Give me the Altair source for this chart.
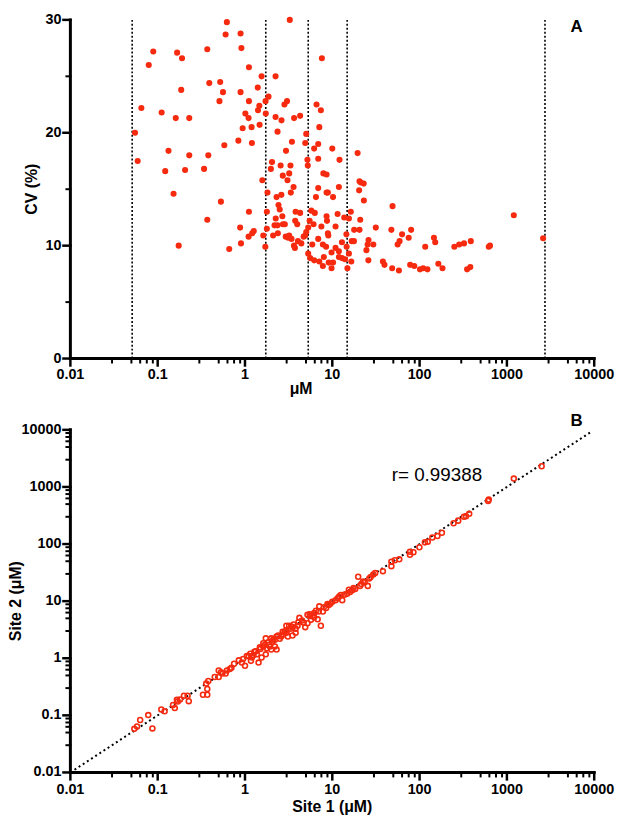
import altair as alt
import pandas as pd

RED = "#F52A0F"
FONT = "Liberation Sans"

# ---------------- Panel A: CV (%) vs concentration (uM) ----------------
cv_conc = [0.055, 0.059, 0.065, 0.079, 0.089, 0.111, 0.122, 0.133, 0.152, 0.161,
           0.167, 0.186, 0.190, 0.206, 0.23, 0.23, 0.34, 0.37, 0.38, 0.39,
           0.51, 0.52, 0.53, 0.56, 0.58, 0.60, 0.62, 0.84, 0.89, 0.89,
           0.91, 0.94, 1.01, 1.10, 1.11, 1.11, 1.19, 1.20, 1.40, 1.41,
           1.46, 1.47, 1.55, 1.58, 1.72, 1.73, 1.81, 1.86, 2.04, 1.98,
           2.24, 2.24, 2.30, 2.36, 2.56, 2.61, 2.62, 2.71, 2.83, 2.95,
           3.03, 3.07, 3.21, 3.26, 3.32, 3.35, 3.45, 3.60, 3.65, 4.28,
           4.90, 5.03, 5.19, 5.24, 6.2, 6.6,
           0.174, 0.37, 0.66, 0.88, 0.90, 1.10, 1.11, 1.21, 1.26, 1.62,
           1.71, 1.78, 1.78, 2.10, 2.18, 2.25, 2.36, 2.38, 2.42, 2.50,
           2.68, 2.72, 2.86, 2.93, 3.12, 3.21, 3.41, 3.64, 3.76, 3.80,
           3.73, 3.97, 4.04, 4.28, 4.42, 4.70, 4.90, 5.03, 5.3, 5.5,
           5.75, 5.3, 5.58, 5.9, 6.2, 6.5,
           7.6, 7.4, 7.1, 6.9, 10.0, 6.9, 12.1, 19.5, 7.9, 8.6,
           20.5, 21.2, 22.9, 6.9, 11.9, 20.3, 8.6, 8.9, 10.2, 23.0, 49.0,
           1200, 2600, 6.3, 8.6, 8.7, 11.5, 13.7, 16.3, 15.5, 20.9,
           7.5, 10.9, 8.9, 9.0, 14.5, 17.8, 20.5, 31.5, 47.5, 80,
           63, 75, 6.9, 7.8, 8.5, 10.9, 12.9, 11.9, 9.8, 14.6,
           16.7, 17.7, 15.5, 16.5, 14.9, 7.1, 8.0, 7.8, 9.1, 9.8,
           10.2, 11.9, 12.9, 14.0, 25.4, 26.0, 29.5, 24.6, 25.9, 38,
           39.6, 48.5, 58, 56, 59, 78, 87, 101, 110, 123,
           116, 146, 151, 164, 183, 250, 284, 323, 386, 350,
           381, 620, 640, 6.1]
cv_pct = [20.0, 17.5, 22.2, 26.0, 27.2, 21.8, 16.6, 18.4, 14.6, 21.3,
          27.1, 23.8, 26.6, 16.7, 21.3, 18.0, 16.8, 27.4, 18.0, 24.4,
          22.8, 24.5, 13.9, 23.6, 18.9, 28.7, 29.8, 19.3, 28.8, 23.6,
          27.5, 20.4, 21.7, 21.3, 25.8, 22.8, 20.5, 19.1, 24.0, 22.0,
          22.4, 20.7, 25.0, 15.8, 22.8, 21.7, 14.7, 23.2, 17.4, 16.8,
          25.0, 21.4, 14.3, 20.1, 17.1, 14.5, 21.1, 16.2, 22.5, 18.4,
          22.8, 15.8, 16.4, 30.0, 17.1, 14.7, 19.2, 15.2, 21.3, 21.5,
          19.1, 19.9, 17.6, 17.1, 18.6, 22.5,
          10.0, 12.3, 9.7, 11.6, 10.2, 10.8, 13.0, 11.1, 11.3, 10.9,
          9.9, 13.0, 11.5, 10.9, 11.8, 12.4, 11.8, 11.1, 13.6, 13.2,
          12.6, 11.9, 11.9, 10.8, 10.7, 10.9, 10.6, 10.0, 12.2, 13.0,
          9.8, 11.9, 10.4, 12.9, 10.2, 10.8, 10.9, 11.2, 11.6, 12.2,
          13.1, 9.3, 8.9, 10.1, 8.7, 14.3,
          26.6, 22.0, 20.5, 19.0, 18.6, 17.7, 17.6, 18.2, 16.4, 16.3,
          15.7, 15.6, 15.5, 15.1, 15.2, 14.9, 14.7, 14.7, 14.3, 14.0, 13.5,
          12.7, 10.65, 12.9, 12.6, 12.2, 12.8, 12.5, 13.0, 12.4, 12.3,
          11.7, 11.7, 11.1, 10.9, 11.0, 11.4, 11.4, 11.6, 11.4, 11.4,
          11.0, 10.7, 10.6, 10.1, 9.9, 9.8, 10.3, 9.5, 9.4, 9.9,
          10.4, 10.4, 9.3, 8.6, 8.0, 8.6, 9.0, 8.2, 8.5, 8.0,
          8.5, 9.0, 8.9, 8.8, 10.1, 10.5, 10.1, 9.6, 8.7, 8.6,
          8.3, 8.0, 7.8, 10.1, 10.4, 8.3, 8.2, 7.9, 8.0, 7.9,
          9.9, 10.7, 10.3, 8.4, 8.0, 9.9, 10.1, 10.2, 10.4, 7.9,
          8.1, 9.9, 10.0, 11.9]
boundaries = [0.051, 1.73, 5.3, 14.8, 2730]

# ---------------- Panel B: Site 2 vs Site 1 ----------------
site1 = [0.054, 0.058, 0.063, 0.078, 0.087, 0.110, 0.120, 0.150, 0.157, 0.166,
         0.17, 0.18, 0.20, 0.22, 0.227, 0.33, 0.37, 0.37, 0.36, 0.38,
         0.50, 0.50, 0.55, 0.60, 0.62, 0.67, 0.85, 0.92, 1.0, 1.10,
         1.17, 1.25, 1.33, 1.43, 1.48, 1.55, 1.62, 1.73, 1.73, 1.89,
         2.06, 2.2, 2.3, 2.5, 2.73, 2.98, 3.1, 3.4, 3.5, 3.8,
         4.0, 4.2, 4.9, 5.2, 5.7, 6.2, 1.05, 1.20, 1.37, 1.78,
         1.62, 1.93, 2.0, 2.0, 2.3, 2.2, 2.4, 2.6, 2.85, 2.98,
         3.2, 3.5, 3.8, 5.2, 5.6, 6.2, 6.8, 7.1, 7.4, 7.8,
         8.5, 9.1, 10.0, 10.9, 12.0, 13.0, 14.8, 16.9, 18.3, 19.8,
         20.8, 23.5, 25.5, 29.5, 31, 38, 47.5, 47.5, 52, 58.5,
         77.5, 77.5, 85, 99.5, 115, 124, 140, 160, 180, 245,
         277, 322, 340, 370, 610, 620, 1200, 2500,
         2.7, 3.0, 3.3, 3.6, 4.1, 4.5, 4.7, 5.5, 6.0, 6.5,
         7.0, 8.0, 8.8, 9.5, 11.5, 12.5, 13.8, 15.5, 16.0, 17.5,
         21.5, 22.5, 26.5, 27.5, 1.15, 1.28, 1.5, 1.68, 1.85, 2.1,
         0.70, 0.75, 0.95, 0.53, 0.45]
site2 = [0.058, 0.064, 0.083, 0.101, 0.059, 0.127, 0.118, 0.152, 0.134, 0.187,
         0.175, 0.19, 0.22, 0.22, 0.177, 0.23, 0.23, 0.29, 0.36, 0.40,
         0.61, 0.47, 0.54, 0.54, 0.61, 0.65, 0.92, 0.84, 0.74, 1.09,
         0.90, 1.13, 1.33, 0.84, 1.55, 1.03, 1.61, 1.17, 2.23, 1.72,
         1.95, 1.61, 2.4, 2.2, 2.6, 3.1, 2.4, 3.6, 2.5, 3.3,
         3.7, 5.1, 3.5, 4.1, 4.7, 5.2, 1.09, 1.03, 1.17, 1.50,
         1.83, 1.61, 2.23, 1.42, 1.42, 2.1, 2.5, 2.4, 2.9, 3.7,
         3.7, 3.5, 2.8, 5.8, 5.5, 6.2, 4.8, 8.1, 3.7, 6.6,
         7.6, 8.6, 9.8, 10.4, 12.0, 10.4, 13.5, 15.5, 16.3, 26.8,
         18.5, 21.5, 18.5, 29.3, 31, 33.5, 49, 41, 52, 54,
         73, 65, 72, 88, 107, 110, 130, 138, 158, 231,
         257, 300, 307, 338, 570, 600, 1400, 2300,
         2.9, 2.8, 3.3, 3.9, 4.3, 4.6, 4.2, 5.9, 5.6, 6.8,
         6.6, 7.8, 8.9, 9.0, 11.2, 12.8, 13.0, 15.8, 14.5, 17.0,
         20.0, 22.0, 25.0, 26.5, 1.2, 1.3, 1.45, 1.7, 1.9, 2.1,
         0.68, 0.8, 0.97, 0.57, 0.47]
identity_line = [0.01, 9000]
r_text = "r= 0.99388"

# ---------------- Axis ticks and tick labels ----------------
log_major = [0.01, 0.1, 1, 10, 100, 1000, 10000]
log_labels = ["0.01", "0.1", "1", "10", "100", "1000", "10000"]
log_minor_mult = [3, 5, 6.3, 7.5, 8.8]
log_minor = [round(b * m, 6) for b in log_major[:-1] for m in log_minor_mult]
lin_major = [0, 10, 20, 30]
lin_labels = ["0", "10", "20", "30"]
lin_minor = [5, 15, 25]
log_range = [0.01, 10000]
lin_range = [0, 30]

W = 529
HA = 342
HB = 346
MAJ, MIN = 7, 4
LBL = dict(font=FONT, fontSize=14.5, fontWeight="bold", color="black")
TTL = dict(font=FONT, fontSize=16, fontWeight="bold", color="black")

xs = alt.Scale(type="log", domain=log_range, nice=False)
ys_a = alt.Scale(domain=lin_range, nice=False)
ys_b = alt.Scale(type="log", domain=log_range, nice=False)


def x_left(px):
    # data value lying px pixels left of the log x-axis start
    return log_range[0] * 10 ** (-6.0 * px / W)


def frame_layer(yscale, y_is_log, H, y_major, y_minor, ylo, yhi):
    """Axis lines and tick marks drawn as path segments through the scales."""
    def y_below(px):
        if y_is_log:
            return ylo * 10 ** (-6.0 * px / H)
        return ylo - px * (yhi - ylo) / H

    rows = []
    k = 0
    for vals, size, w in ((log_major, MAJ, 2.5), (log_minor, MIN, 2)):
        for v in vals:
            rows += [(k, 0, v, ylo, w), (k, 1, v, y_below(size), w)]
            k += 1
    for vals, size, w in ((y_major, MAJ, 2.5), (y_minor, MIN, 2)):
        for v in vals:
            rows += [(k, 0, log_range[0], v, w), (k, 1, x_left(size), v, w)]
            k += 1
    rows += [(k, 0, log_range[0], yhi, 3), (k, 1, log_range[0], ylo, 3),
             (k, 2, log_range[1], ylo, 3)]
    df = pd.DataFrame(rows, columns=["gid", "o", "fx", "fy", "w"])
    return alt.Chart(df).mark_line(color="black", strokeCap="square",
                                   strokeDash=[2000, 0]).encode(
        x=alt.X("fx:Q", scale=xs, axis=None),
        y=alt.Y("fy:Q", scale=yscale, axis=None),
        detail="gid:N",
        order=alt.Order("o:Q"),
        strokeWidth=alt.StrokeWidth("w:Q", scale=None, legend=None))


def x_labels(values, labels, dy, H):
    return alt.Chart(pd.DataFrame({"lv": values, "t": labels})).mark_text(
        align="center", baseline="middle", **LBL).encode(
        x=alt.X("lv:Q", scale=xs, axis=None), y=alt.value(H + dy), text="t:N")


def y_labels(values, labels, yscale):
    return alt.Chart(pd.DataFrame({"lw": values, "t": labels})).mark_text(
        align="right", baseline="middle", **LBL).encode(
        y=alt.Y("lw:Q", scale=yscale, axis=None), x=alt.value(-9), text="t:N")


def title_text(text, px, py, angle=0):
    return alt.Chart(pd.DataFrame({"t": [text]})).mark_text(
        align="center", baseline="middle", angle=angle, **TTL).encode(
        x=alt.value(px), y=alt.value(py), text="t:N")


# ---------- Panel A ----------
dfA = pd.DataFrame({"conc": cv_conc, "cv": cv_pct})
rules = alt.Chart(pd.DataFrame({"b": boundaries})).mark_rule(
    color="black", strokeDash=[2, 2], strokeWidth=1.6).encode(
    x=alt.X("b:Q", scale=xs, axis=None))
labA = alt.Chart(pd.DataFrame({"x": [6270], "y": [29.4], "t": ["A"]})).mark_text(
    font=FONT, fontSize=17, fontWeight="bold", color="black").encode(
    x=alt.X("x:Q", scale=xs, axis=None), y=alt.Y("y:Q", scale=ys_a, axis=None), text="t:N")
ptsA = alt.Chart(dfA).mark_circle(size=38, color=RED, opacity=1).encode(
    x=alt.X("conc:Q", scale=xs, axis=None),
    y=alt.Y("cv:Q", scale=ys_a, axis=None))

chartA = alt.layer(
    rules, labA,
    x_labels(log_major, log_labels, 17, HA), y_labels(lin_major, lin_labels, ys_a),
    title_text("μM", 233, HA + 31), title_text("CV (%)", -39, HA / 2, angle=270),
    ptsA,
    frame_layer(ys_a, False, HA, lin_major, lin_minor, lin_range[0], lin_range[1])
).properties(width=W, height=HA)

# ---------- Panel B ----------
dfB = pd.DataFrame({"s1": site1, "s2": site2})
line = alt.Chart(pd.DataFrame({"x": identity_line, "y": identity_line})).mark_line(
    color="black", strokeDash=[2, 3], strokeWidth=2).encode(
    x=alt.X("x:Q", scale=xs, axis=None), y=alt.Y("y:Q", scale=ys_b, axis=None))
labB = alt.Chart(pd.DataFrame({"x": [6270], "y": [14160], "t": ["B"]})).mark_text(
    font=FONT, fontSize=17, fontWeight="bold", color="black").encode(
    x=alt.X("x:Q", scale=xs, axis=None), y=alt.Y("y:Q", scale=ys_b, axis=None), text="t:N")
rlab = alt.Chart(pd.DataFrame({"x": [47.9], "y": [1620], "t": [r_text]})).mark_text(
    font=FONT, fontSize=19, color="black", align="left", baseline="middle").encode(
    x=alt.X("x:Q", scale=xs, axis=None), y=alt.Y("y:Q", scale=ys_b, axis=None), text="t:N")
ptsB = alt.Chart(dfB).mark_point(shape="circle", filled=False, size=25, strokeWidth=1.6,
                                 color=RED, opacity=1).encode(
    x=alt.X("s1:Q", scale=xs, axis=None),
    y=alt.Y("s2:Q", scale=ys_b, axis=None))

chartB = alt.layer(
    line, labB, rlab,
    x_labels(log_major, log_labels, 18, HB), y_labels(log_major, log_labels, ys_b),
    title_text("Site 1 (μM)", W / 2, HB + 35), title_text("Site 2 (μM)", -55, HB / 2, angle=270),
    ptsB,
    frame_layer(ys_b, True, HB, log_major, log_minor, log_range[0], log_range[1])
).properties(width=W, height=HB)

chart = alt.vconcat(chartA, chartB, spacing=72, bounds="flush").properties(
    padding={"left": 0, "top": 0, "right": 0, "bottom": 0}
).configure_view(strokeWidth=0)

chart.save("out.html", embed_options={"renderer": "svg", "actions": False})
